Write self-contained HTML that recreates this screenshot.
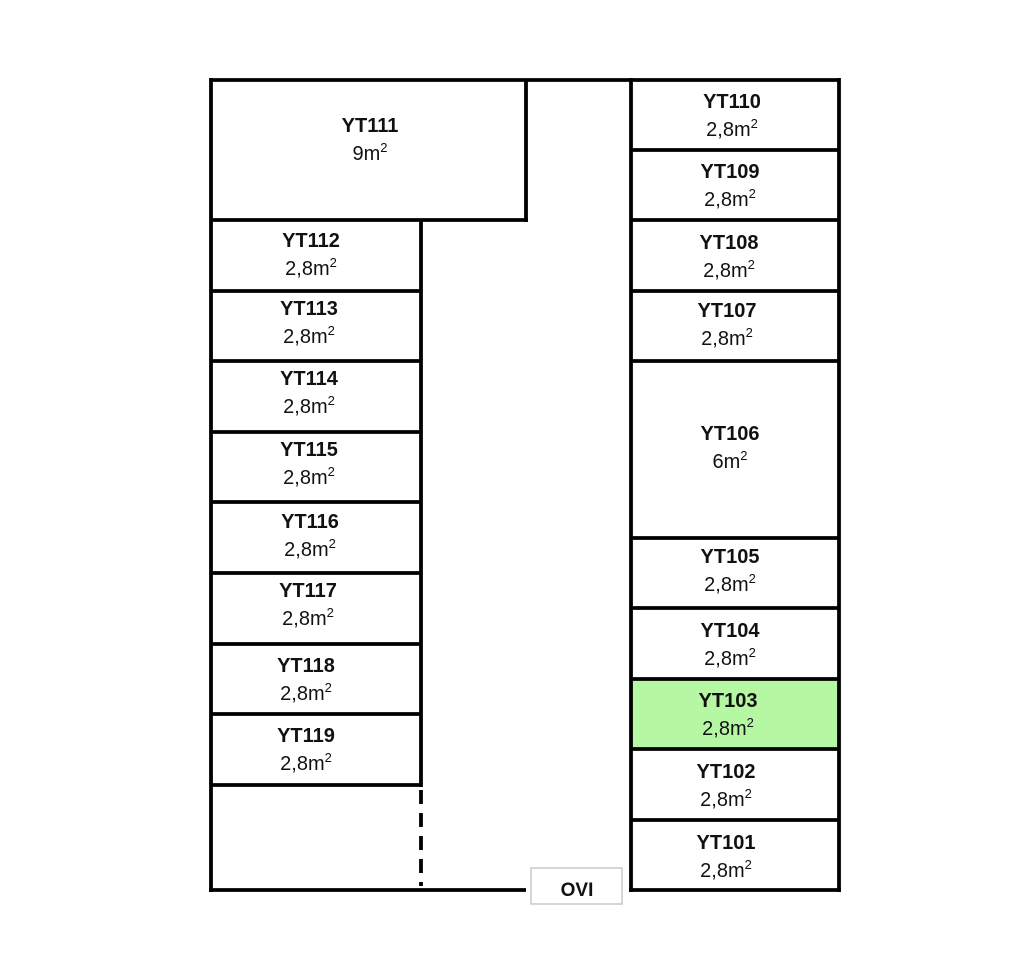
<!DOCTYPE html>
<html><head><style>
html,body{margin:0;padding:0;background:#fff;}
svg text{font-family:"Liberation Sans",Arial,sans-serif;font-size:20px;fill:#111;text-anchor:middle;}
.b{font-weight:bold;}
.s{font-size:13px;}
</style></head><body>
<svg width="1025" height="963" viewBox="0 0 1025 963" xmlns="http://www.w3.org/2000/svg">
<rect x="631" y="679" width="208" height="70" fill="#b6f7a4"/>
<g stroke="#000" stroke-width="3.8" fill="none">
<line x1="211" y1="80" x2="839" y2="80"/>
<line x1="211" y1="78" x2="211" y2="892"/>
<line x1="209" y1="890" x2="526" y2="890"/>
<line x1="526" y1="80" x2="526" y2="222"/>
<line x1="211" y1="220" x2="528" y2="220"/>
<line x1="421" y1="220" x2="421" y2="787"/>
<line x1="421" y1="790" x2="421" y2="886" stroke-dasharray="14,9"/>
<line x1="631" y1="78" x2="631" y2="892"/>
<line x1="839" y1="78" x2="839" y2="892"/>
<line x1="629" y1="890" x2="841" y2="890"/>
<line x1="211" y1="291" x2="421" y2="291"/>
<line x1="211" y1="361" x2="421" y2="361"/>
<line x1="211" y1="432" x2="421" y2="432"/>
<line x1="211" y1="502" x2="421" y2="502"/>
<line x1="211" y1="573" x2="421" y2="573"/>
<line x1="211" y1="644" x2="421" y2="644"/>
<line x1="211" y1="714" x2="421" y2="714"/>
<line x1="211" y1="785" x2="421" y2="785"/>
<line x1="631" y1="150" x2="839" y2="150"/>
<line x1="631" y1="220" x2="839" y2="220"/>
<line x1="631" y1="291" x2="839" y2="291"/>
<line x1="631" y1="361" x2="839" y2="361"/>
<line x1="631" y1="538" x2="839" y2="538"/>
<line x1="631" y1="608" x2="839" y2="608"/>
<line x1="631" y1="679" x2="839" y2="679"/>
<line x1="631" y1="749" x2="839" y2="749"/>
<line x1="631" y1="820" x2="839" y2="820"/>
</g>
<rect x="531" y="868" width="91" height="36" fill="#fff" stroke="#c8c8c8" stroke-width="1.5"/>
<text class="b" x="577" y="896" style="font-size:19px">OVI</text>

<text class="b" x="370" y="132">YT111</text><text x="370" y="160">9m<tspan class="s" dy="-8">2</tspan></text>

<text class="b" x="311" y="247">YT112</text><text x="311" y="275">2,8m<tspan class="s" dy="-8">2</tspan></text>
<text class="b" x="309" y="315">YT113</text><text x="309" y="343">2,8m<tspan class="s" dy="-8">2</tspan></text>
<text class="b" x="309" y="385">YT114</text><text x="309" y="413">2,8m<tspan class="s" dy="-8">2</tspan></text>
<text class="b" x="309" y="456">YT115</text><text x="309" y="484">2,8m<tspan class="s" dy="-8">2</tspan></text>
<text class="b" x="310" y="528">YT116</text><text x="310" y="556">2,8m<tspan class="s" dy="-8">2</tspan></text>
<text class="b" x="308" y="597">YT117</text><text x="308" y="625">2,8m<tspan class="s" dy="-8">2</tspan></text>
<text class="b" x="306" y="672">YT118</text><text x="306" y="700">2,8m<tspan class="s" dy="-8">2</tspan></text>
<text class="b" x="306" y="742">YT119</text><text x="306" y="770">2,8m<tspan class="s" dy="-8">2</tspan></text>

<text class="b" x="732" y="108">YT110</text><text x="732" y="136">2,8m<tspan class="s" dy="-8">2</tspan></text>
<text class="b" x="730" y="178">YT109</text><text x="730" y="206">2,8m<tspan class="s" dy="-8">2</tspan></text>
<text class="b" x="729" y="249">YT108</text><text x="729" y="277">2,8m<tspan class="s" dy="-8">2</tspan></text>
<text class="b" x="727" y="317">YT107</text><text x="727" y="345">2,8m<tspan class="s" dy="-8">2</tspan></text>
<text class="b" x="730" y="440">YT106</text><text x="730" y="468">6m<tspan class="s" dy="-8">2</tspan></text>
<text class="b" x="730" y="563">YT105</text><text x="730" y="591">2,8m<tspan class="s" dy="-8">2</tspan></text>
<text class="b" x="730" y="637">YT104</text><text x="730" y="665">2,8m<tspan class="s" dy="-8">2</tspan></text>
<text class="b" x="728" y="707">YT103</text><text x="728" y="735">2,8m<tspan class="s" dy="-8">2</tspan></text>
<text class="b" x="726" y="778">YT102</text><text x="726" y="806">2,8m<tspan class="s" dy="-8">2</tspan></text>
<text class="b" x="726" y="849">YT101</text><text x="726" y="877">2,8m<tspan class="s" dy="-8">2</tspan></text>
</svg>
</body></html>
